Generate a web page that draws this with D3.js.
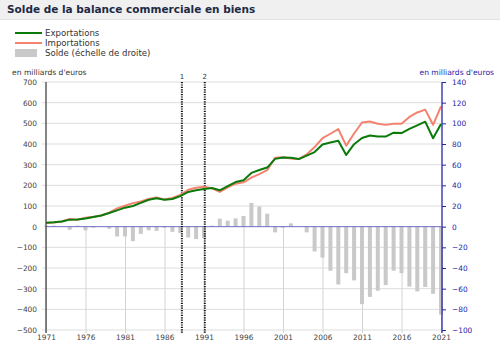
<!DOCTYPE html>
<html>
<head>
<meta charset="utf-8">
<script src="https://cdn.jsdelivr.net/npm/d3@7"></script>
<style>
  html, body { margin: 0; padding: 0; background: #fff; }
  svg { display: block; font-family: "DejaVu Sans", Verdana, sans-serif; }
</style>
</head>
<body>
<svg id="chart" width="500" height="346"></svg>
<script>
// Annual goods trade, France, billions of euros
const years = d3.range(1971, 2022);
const exportations = [19, 21, 25, 34, 35, 40, 47, 54, 66, 79,
  92, 100, 115, 130, 137, 130, 134, 148, 168, 176,
  182, 187, 176, 196, 216, 225, 260, 274, 286, 328,
  335, 333, 327, 344, 361, 398, 407, 416, 347, 399,
  429, 441, 436, 436, 455, 453, 473, 490, 508, 428, 497];
const importations = [18, 20, 25, 37, 34, 43.5, 48, 54, 68, 88.5,
  101.5, 114, 122, 133.5, 141, 131, 139, 154, 178.5, 188,
  193, 186, 168.3, 190, 208, 214.7, 237, 254.5, 273.4, 333.5,
  336, 329.8, 327, 349.5, 385, 428, 449.6, 472, 392, 451,
  504, 509, 498, 492.5, 497.6, 498, 531, 552.6, 566.4, 493, 582];
// balance, plotted against the right-hand axis
const solde = [1, 1, 0, -3, 1, -3.5, -1, 0, -2, -9.5,
  -9.5, -14, -7, -3.5, -4, -1, -5, -6, -10.5, -12,
  -11, 1, 7.7, 5.8, 8, 10.3, 23, 19.5, 12.6, -5.5,
  -1, 3.2, 0, -5.5, -24, -30, -42.6, -56, -45, -52,
  -75, -68, -62, -56.5, -42.6, -45, -58, -62.6, -58.4, -65, -85];
const xTicks = [1971, 1976, 1981, 1986, 1991, 1996, 2001, 2006, 2011, 2016, 2021];
const leftTicks = [-500, -400, -300, -200, -100, 0, 100, 200, 300, 400, 500, 600, 700];
const rightTicks = [-100, -80, -60, -40, -20, 0, 20, 40, 60, 80, 100, 120, 140];
const markers = [{label: "1", year: 1988.2}, {label: "2", year: 1991.1}];

const svg = d3.select("#chart");
const GREEN = "#0b7a0b", SALMON = "#f4826f", BAR = "#c9c9c9", BLUE = "#2525a8";
const TICK_FONT = 7.4;

const x = d3.scaleLinear().domain([1971, 2021]).range([46, 441]);
const y = d3.scaleLinear().domain([-500, 700]).range([330, 82]);
const yR = d3.scaleLinear().domain([-100, 140]).range([330, 82]);

// title bar
svg.append("rect").attr("x", 0).attr("y", 0).attr("width", 500).attr("height", 19).attr("fill", "#f0f0f0");
svg.append("line").attr("x1", 0).attr("x2", 500).attr("y1", 19.5).attr("y2", 19.5).attr("stroke", "#e2e2e2");
svg.append("text").attr("x", 7).attr("y", 13).attr("font-size", 10.5).attr("font-weight", "bold")
  .attr("fill", "#1d2a45").text("Solde de la balance commerciale en biens");

// legend
const legend = svg.append("g").attr("font-size", 8.6).attr("fill", "#333");
legend.append("line").attr("x1", 15).attr("x2", 42).attr("y1", 33).attr("y2", 33).attr("stroke", GREEN).attr("stroke-width", 2);
legend.append("text").attr("x", 45).attr("y", 36).text("Exportations");
legend.append("line").attr("x1", 15).attr("x2", 42).attr("y1", 43).attr("y2", 43).attr("stroke", SALMON).attr("stroke-width", 2);
legend.append("text").attr("x", 45).attr("y", 46).text("Importations");
legend.append("rect").attr("x", 15).attr("y", 49).attr("width", 22).attr("height", 8).attr("fill", BAR);
legend.append("text").attr("x", 45).attr("y", 56).text("Solde (échelle de droite)");

// unit labels
svg.append("text").attr("x", 12).attr("y", 75).attr("font-size", 7.6).attr("fill", "#333").text("en milliards d'euros");
svg.append("text").attr("x", 494).attr("y", 75).attr("font-size", 7.6).attr("fill", BLUE)
  .attr("text-anchor", "end").text("en milliards d'euros");

// horizontal grid
svg.append("g").selectAll("line").data(leftTicks.filter(d => d !== 0)).join("line")
  .attr("x1", 42).attr("x2", 441).attr("y1", d => y(d)).attr("y2", d => y(d))
  .attr("stroke", "#dddddd").attr("stroke-width", 1);

// vertical grid below zero
svg.append("g").selectAll("line").data(xTicks).join("line")
  .attr("x1", d => x(d) + 0.5).attr("x2", d => x(d) + 0.5).attr("y1", y(0)).attr("y2", 333)
  .attr("stroke", "#d4d4d4").attr("stroke-width", 1);

// balance bars
const barW = 4;
svg.append("g").selectAll("rect").data(years.map((yr, i) => ({yr, v: solde[i]}))).join("rect")
  .attr("x", d => x(d.yr) - barW / 2)
  .attr("width", barW)
  .attr("y", d => Math.min(yR(d.v), yR(0)))
  .attr("height", d => Math.abs(yR(d.v) - yR(0)))
  .attr("fill", BAR);

// zero line
svg.append("line").attr("x1", 46).attr("x2", 441).attr("y1", y(0)).attr("y2", y(0))
  .attr("stroke", "#6f6fc4").attr("stroke-width", 1);

// event markers
const mk = svg.append("g");
mk.selectAll("line").data(markers).join("line")
  .attr("x1", d => x(d.year)).attr("x2", d => x(d.year)).attr("y1", 82).attr("y2", 333)
  .attr("stroke", "#111").attr("stroke-width", 2).attr("stroke-dasharray", "1.2,1.2");
mk.selectAll("text").data(markers).join("text")
  .attr("x", d => x(d.year)).attr("y", 79).attr("text-anchor", "middle")
  .attr("font-size", 7).attr("fill", "#333").text(d => d.label);

// lines
const line = d3.line().x(d => x(d[0])).y(d => y(d[1]));
svg.append("path").datum(years.map((yr, i) => [yr, importations[i]]))
  .attr("d", line).attr("fill", "none").attr("stroke", SALMON).attr("stroke-width", 2).attr("stroke-linejoin", "round");
svg.append("path").datum(years.map((yr, i) => [yr, exportations[i]]))
  .attr("d", line).attr("fill", "none").attr("stroke", GREEN).attr("stroke-width", 2).attr("stroke-linejoin", "round");

// left axis
const leftAxis = svg.append("g").attr("transform", "translate(46,0)")
  .call(d3.axisLeft(y).tickValues(leftTicks).tickSize(0).tickPadding(9));
leftAxis.select(".domain").attr("stroke", "#444").attr("stroke-width", 1.3).attr("d", "M0,82V333");
leftAxis.selectAll("text").attr("font-size", TICK_FONT).attr("fill", "#444").attr("font-family", "DejaVu Sans, sans-serif");

// right axis
const rightAxis = svg.append("g").attr("transform", "translate(442,0)")
  .call(d3.axisRight(yR).tickValues(rightTicks).tickSize(4).tickPadding(6));
rightAxis.select(".domain").attr("stroke", BLUE).attr("stroke-width", 1.3).attr("d", "M0,82V333");
rightAxis.selectAll(".tick line").attr("stroke", BLUE);
rightAxis.selectAll("text").attr("font-size", TICK_FONT).attr("fill", BLUE).attr("font-family", "DejaVu Sans, sans-serif");

// bottom axis labels
const bottomAxis = svg.append("g").attr("transform", "translate(0,332)")
  .call(d3.axisBottom(x).tickValues(xTicks).tickFormat(d3.format("d")).tickSize(0).tickPadding(3));
bottomAxis.select(".domain").remove();
bottomAxis.selectAll("text").attr("font-size", TICK_FONT).attr("fill", "#444").attr("font-family", "DejaVu Sans, sans-serif");
</script>
</body>
</html>
